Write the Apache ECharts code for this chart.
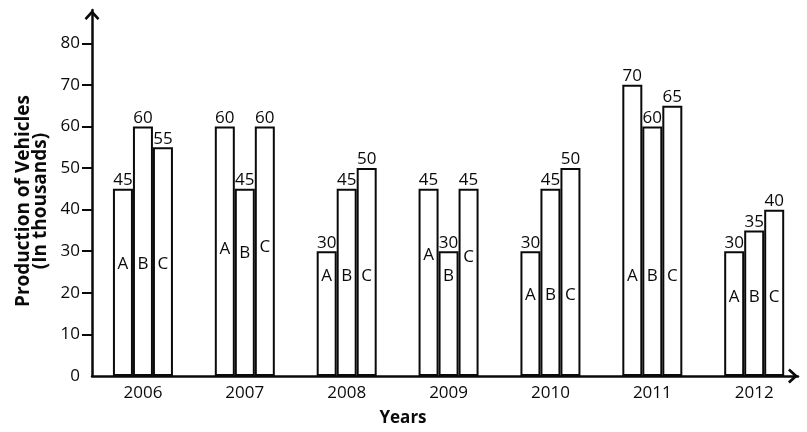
<!DOCTYPE html>
<html>
<head>
<meta charset="utf-8">
<script src="https://cdn.jsdelivr.net/npm/echarts@6/dist/echarts.min.js"></script>
<style>
  html, body { margin: 0; padding: 0; background: #fff; }
  #chart { width: 807px; height: 432px; }
</style>
</head>
<body>
<div id="chart"></div>
<script>
// Production of vehicles (in thousands) by the three units A, B and C
const years = ['2006', '2007', '2008', '2009', '2010', '2011', '2012'];
const unitNames = ['A', 'B', 'C'];
const valuesA = [45, 60, 30, 45, 30, 70, 30];
const valuesB = [60, 45, 45, 30, 45, 60, 35];
const valuesC = [55, 60, 50, 45, 50, 65, 40];
const yTickValues = [0, 10, 20, 30, 40, 50, 60, 70, 80];

// Height (axis units) where each unit letter is written inside its bar
const letterLevelA = [27, 30.5, 24, 29, 19.5, 24, 19];
const letterLevelB = [27, 29.5, 24, 24, 19.5, 24, 19];
const letterLevelC = [27, 31, 24, 28.5, 19.5, 24, 19];

const FONT = '"Open Sans", "Noto Sans", "DejaVu Sans", sans-serif';
const INK = '#0a0a0a';
// open chevron arrow head; the lone moveTo keeps the tip at the symbol centre
const ARROW = 'path://M7.5,1 M7.5,11 L15,19.2 L13,21 L7.5,15 L2,21 L0,19.2 Z';

const valueSets = [valuesA, valuesB, valuesC];
const letterSets = [letterLevelA, letterLevelB, letterLevelC];

const labelText = { fontFamily: FONT, fontSize: 17, color: INK };

const barSeries = valueSets.map((vals, k) => ({
  type: 'bar',
  name: unitNames[k],
  xAxisIndex: 0,
  yAxisIndex: 0,
  barWidth: 20,
  barGap: 0,
  data: vals.map((v, i) => [i, v]),
  itemStyle: { color: '#fff', borderColor: INK, borderWidth: 2 },
  label: Object.assign({
    show: true,
    position: 'top',
    distance: 0,
    formatter: p => String(p.value[1])
  }, labelText),
  silent: true
}));

// invisible carriers for the A / B / C letters drawn inside the bars
const letterSeries = letterSets.map((levels, k) => ({
  type: 'bar',
  name: unitNames[k] + '-letter',
  xAxisIndex: 1,
  yAxisIndex: 0,
  barWidth: 20,
  barGap: 0,
  z: 5,
  data: levels.map((v, i) => [i, v]),
  itemStyle: { color: 'rgba(0,0,0,0)', borderWidth: 0 },
  label: Object.assign({
    show: true,
    position: ['50%', 0],
    align: 'center',
    verticalAlign: 'middle',
    formatter: unitNames[k]
  }, labelText),
  silent: true
}));

const xMin = -0.5, xMax = 6.43;

const chart = echarts.init(document.getElementById('chart'), null, { renderer: 'canvas' });
chart.setOption({
  animation: false,
  backgroundColor: '#fff',
  textStyle: { fontFamily: FONT },
  grid: { left: 92, right: 9, top: 10, bottom: 54 },
  xAxis: [
    {
      type: 'value',
      min: xMin,
      max: xMax,
      splitLine: { show: false },
      axisTick: { show: false },
      axisLine: {
        show: true,
        onZero: false,
        symbol: ['none', ARROW],
        symbolSize: [15, 20],
        lineStyle: { color: INK, width: 2.5 }
      },
      axisLabel: Object.assign({
        customValues: years.map((y, i) => i),
        formatter: v => years[v] || '',
        margin: 9
      }, labelText),
      name: 'Years',
      nameLocation: 'middle',
      nameGap: 34,
      nameTextStyle: {
        fontFamily: FONT,
        fontWeight: 'bold',
        fontSize: 17,
        color: INK,
        padding: [0, 84, 0, 0]
      }
    },
    {
      type: 'value',
      min: xMin,
      max: xMax,
      show: false
    }
  ],
  yAxis: {
    type: 'value',
    min: 0,
    max: 88,
    splitLine: { show: false },
    axisLine: {
      show: true,
      onZero: false,
      symbol: ['none', ARROW],
      symbolSize: [15, 20],
      lineStyle: { color: INK, width: 2.5 }
    },
    axisTick: {
      show: true,
      customValues: yTickValues.filter(v => v > 0),
      length: 10,
      lineStyle: { color: INK, width: 2 }
    },
    axisLabel: Object.assign({
      customValues: yTickValues,
      margin: 12
    }, labelText),
    name: 'Production of Vehicles\n(In thousands)',
    nameLocation: 'middle',
    nameRotate: 90,
    nameGap: 42,
    nameTextStyle: {
      fontFamily: FONT,
      fontWeight: 'bold',
      fontSize: 19,
      lineHeight: 17,
      color: INK,
      padding: [0, 16, 0, 0]
    }
  },
  series: barSeries.concat(letterSeries)
});
</script>
</body>
</html>
